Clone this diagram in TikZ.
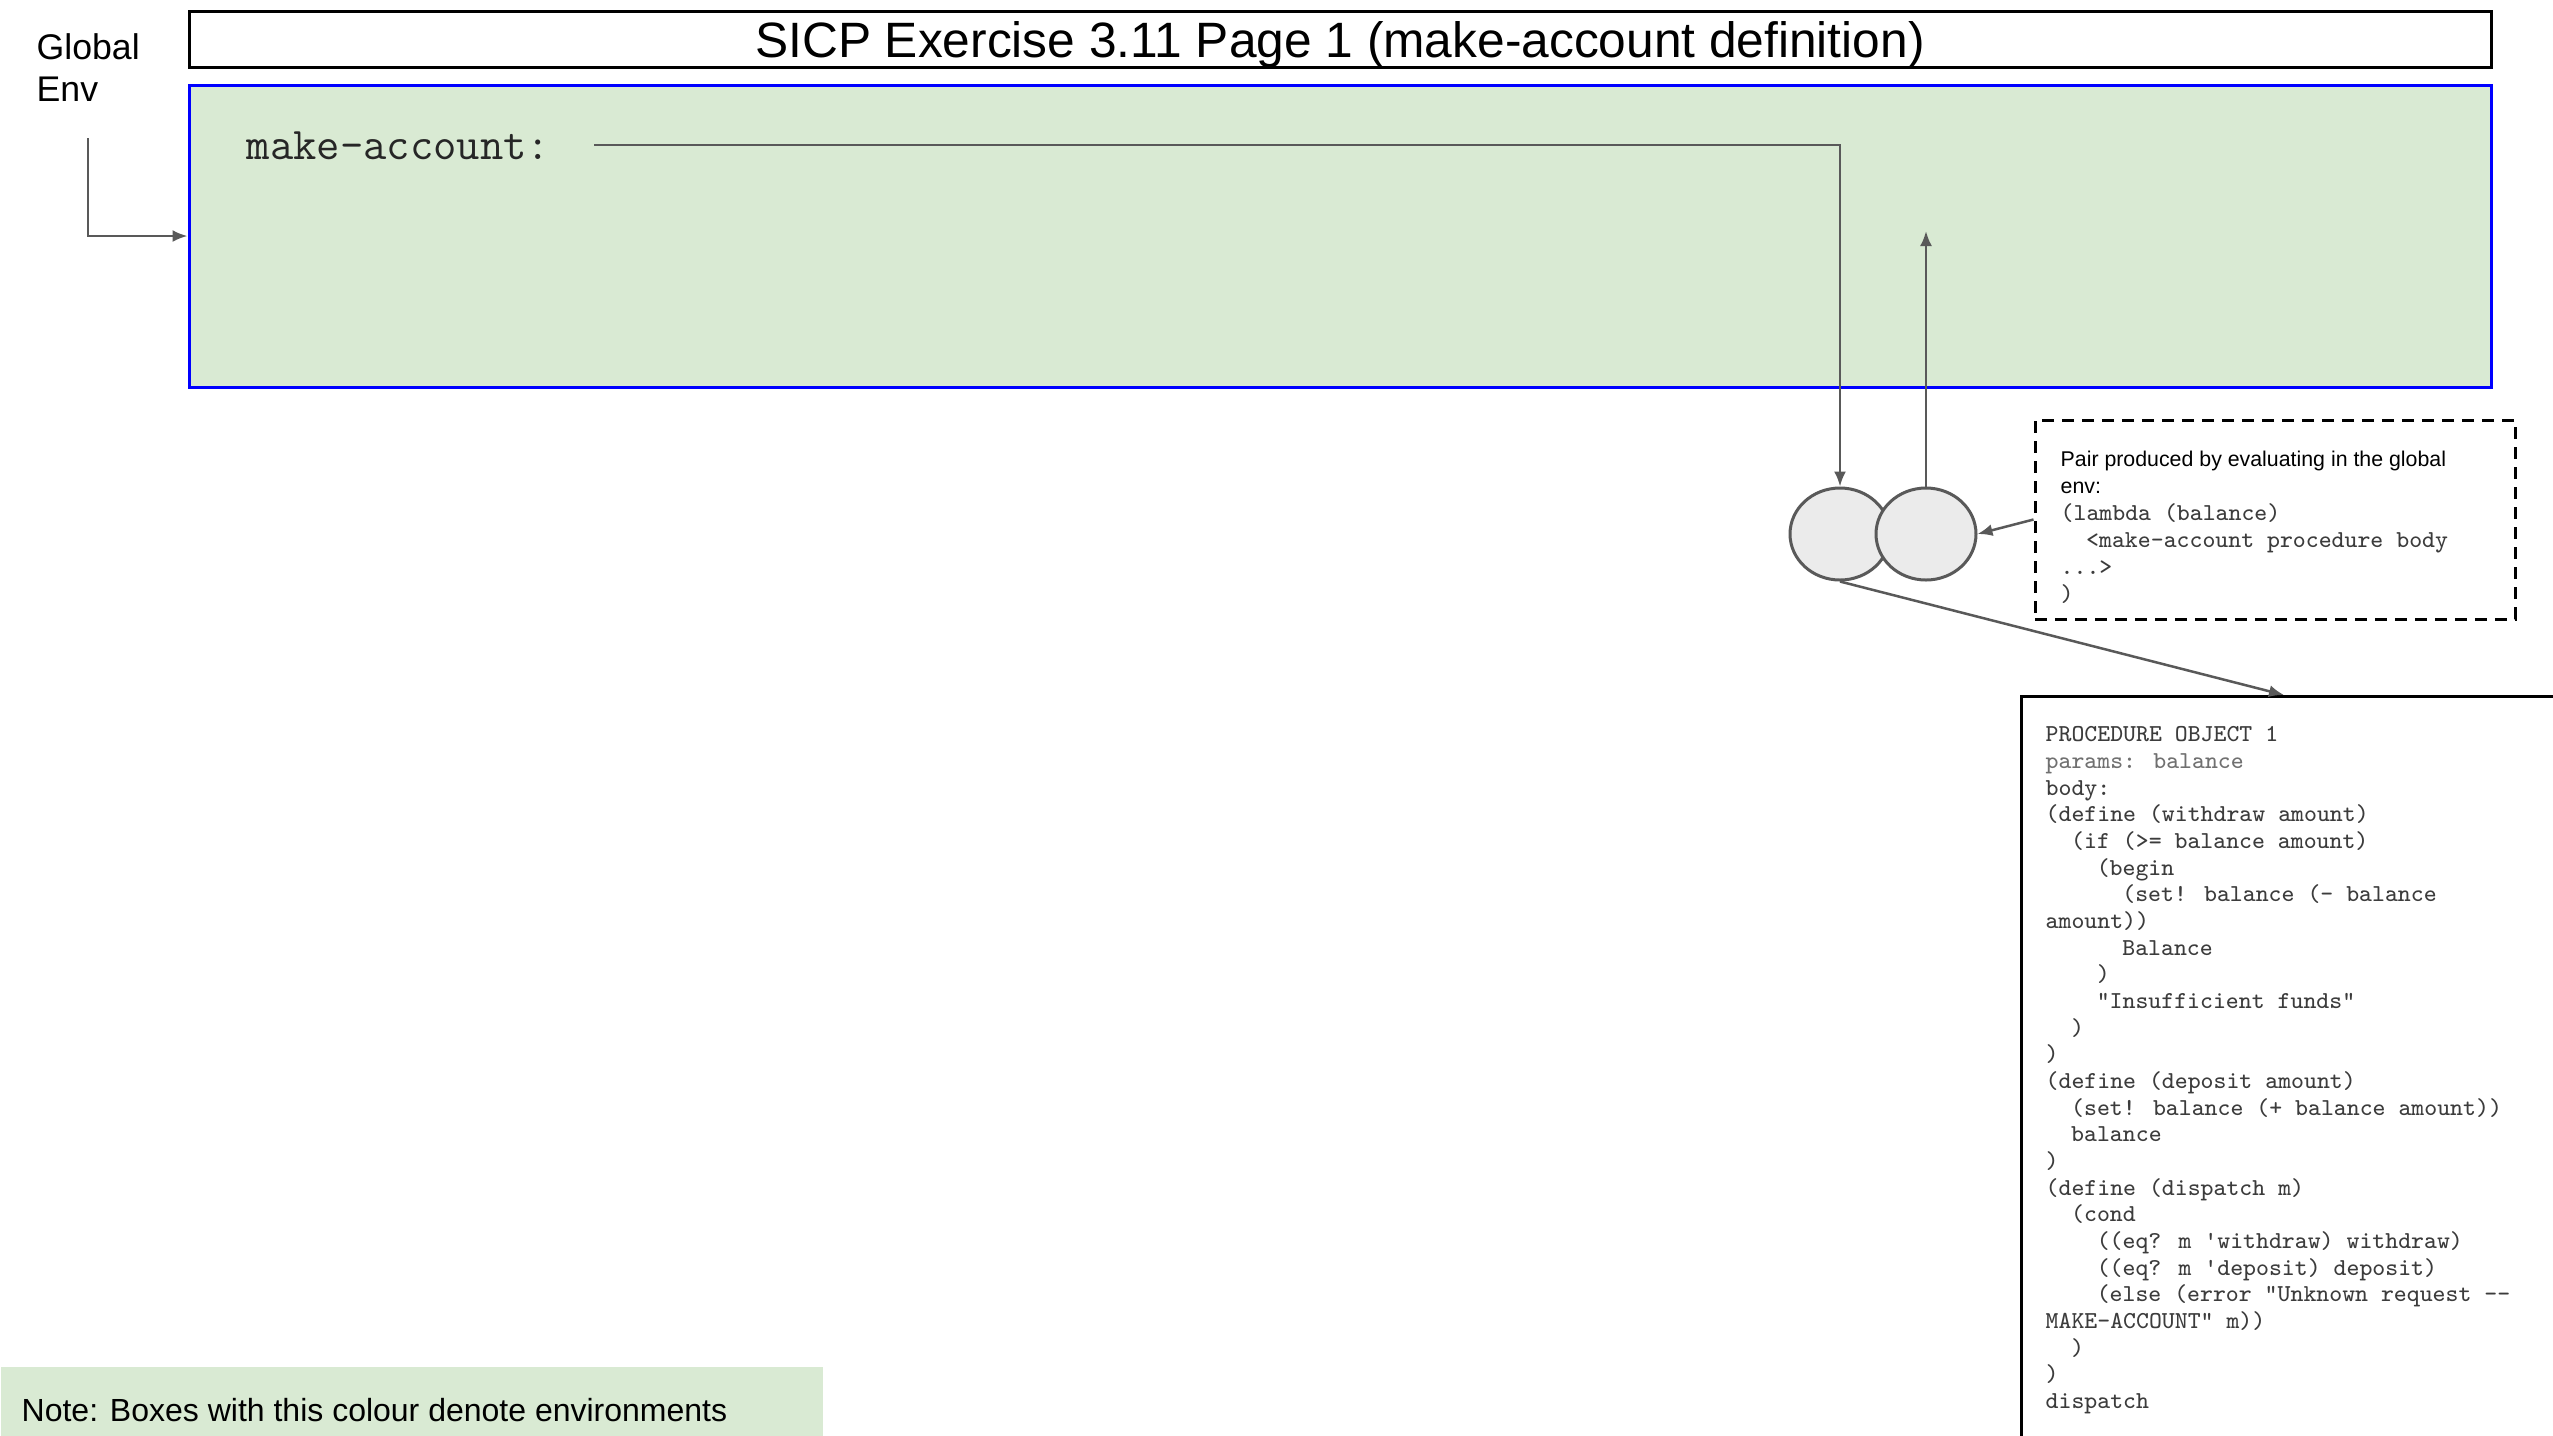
\documentclass[tikz,border=0pt]{standalone}
\usepackage{fontspec}
\setmainfont{Liberation Sans}
\usetikzlibrary{arrows.meta,shapes.geometric,calc}
\definecolor{envgreen}{HTML}{D9EAD3}
\definecolor{envblue}{HTML}{0000FF}
\definecolor{linegray}{HTML}{595959}
\definecolor{pairfill}{HTML}{EBEBEB}
\definecolor{codegray}{HTML}{3C3C3C}
\definecolor{paramgray}{HTML}{707070}
\newcommand\pad[1]{\hspace*{#1\dimexpr 0.525em\relax}}
\begin{document}
\begin{tikzpicture}[x=0.3pt,y=-0.3pt,
  conn/.style={draw=linegray, line width=0.75pt},
  arr/.style={conn, -{Latex[length=4.5pt,width=3.6pt]}},
  titlebox/.style={draw=black, line width=0.9pt, minimum width=690.6pt, minimum height=16.8pt, inner sep=0pt, text height=12pt, text depth=1.2pt, font=\fontsize{14.9}{17}\selectfont},
  envbox/.style={draw=envblue, fill=envgreen, line width=0.9pt, minimum width=690.6pt, minimum height=90.6pt, inner sep=0pt},
  cell/.style={ellipse, draw=linegray, fill=pairfill, line width=0.9pt, minimum width=30pt, minimum height=27.6pt, inner sep=0pt},
  dashbox/.style={draw=black, dash pattern=on 3.6pt off 2.4pt, line width=0.9pt, inner sep=0pt},
  procframe/.style={draw=black, line width=0.75pt, inner sep=0pt},
  plaintext/.style={inner sep=0pt, align=left},
]
\useasboundingbox (0,0) rectangle (2553,1435);
\fill[white] (0,0) rectangle (2553,1435);

% title
\node[titlebox] (title) at (1340,39) {SICP Exercise 3.11 Page 1 (make-account definition)};

% global env label
\node[plaintext, anchor=north west, font=\fontsize{10.7}{12.6}\selectfont] (glob) at (36,33) {Global\\Env};

% environment box
\node[envbox] (env) at (1340,236) {};
\node[plaintext, anchor=west, text=black!85, font=\ttfamily\fontsize{13.6}{16}\selectfont] (mk) at (246,146) {make-account:};

\coordinate (gstart) at (88,138);
\coordinate (mkout) at (594,145);
\coordinate (envin) at (1926,231);
\coordinate (procin) at (2284,695);

% pair
\node[cell] (pl) at (1840,534) {};
\node[cell] (pr) at (1926,534) {};

% dashed annotation box
\node[dashbox, minimum width=144pt, minimum height=59.7pt] (pairbox) at (2275,519.5) {};
\node[plaintext, anchor=north west, font=\fontsize{6.4}{8.1}\selectfont] (pairtxt) at (2060,450)
 {Pair produced by evaluating in the global\\
  env:\\
  {\ttfamily\fontsize{7.3}{8.1}\selectfont\color{codegray}(lambda (balance)}\\
  {\ttfamily\fontsize{7.3}{8.1}\selectfont\color{codegray}\pad{2}<make-account procedure body}\\
  {\ttfamily\fontsize{7.3}{8.1}\selectfont\color{codegray}...>}\\
  {\ttfamily\fontsize{7.3}{8.1}\selectfont\color{codegray})}};

% procedure object
\node[procframe, anchor=north west, minimum width=200pt, minimum height=260pt] (procbox) at (2020,695) {};
\node[plaintext, anchor=north west, text=codegray, font=\ttfamily\fontsize{7.3}{8.0}\selectfont] (proctxt) at (2045,726)
 {PROCEDURE OBJECT 1\\
  {\color{paramgray}params: balance}\\
  body:\\
  (define (withdraw amount)\\
  \pad{2}(if (>= balance amount)\\
  \pad{4}(begin\\
  \pad{6}(set! balance (- balance\\
  amount))\\
  \pad{6}Balance\\
  \pad{4})\\
  \pad{4}"Insufficient funds"\\
  \pad{2})\\
  )\\
  (define (deposit amount)\\
  \pad{2}(set! balance (+ balance amount))\\
  \pad{2}balance\\
  )\\
  (define (dispatch m)\\
  \pad{2}(cond\\
  \pad{4}((eq? m 'withdraw) withdraw)\\
  \pad{4}((eq? m 'deposit) deposit)\\
  \pad{4}(else (error "Unknown request -{}-\\
  MAKE-ACCOUNT" m))\\
  \pad{2})\\
  )\\
  dispatch};

% note
\node[fill=envgreen, anchor=north west, minimum width=246.6pt, minimum height=26.4pt, inner sep=0pt] (notebox) at (0,1366) {};
\node[plaintext, anchor=west, font=\fontsize{9.6}{11}\selectfont] (notetxt) at (21,1410) {Note: Boxes with this colour denote environments};

% connectors
\draw[arr] (gstart) |- (env.west);
\draw[arr] (mkout) -| (pl.north);
\draw[arr] (pr.north) -- (envin);
\draw[arr] (pairbox.west) -- (pr.east);
\draw[arr] (pl.south) -- (procin);
\end{tikzpicture}
\end{document}
